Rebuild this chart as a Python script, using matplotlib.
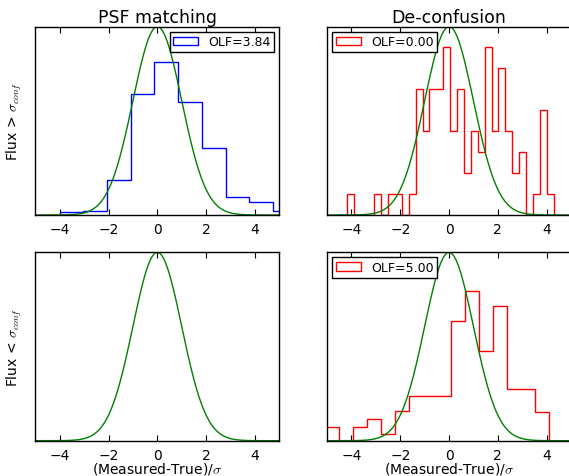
import numpy as np
import matplotlib
matplotlib.use("Agg")
import matplotlib.pyplot as plt

# ---- data (heights as fraction of the Gaussian peak) ----
col_titles = ["PSF matching", "De-confusion"]
row_labels = [r"Flux > $\sigma_{conf}$", r"Flux < $\sigma_{conf}$"]
xlabel = r"(Measured-True)/$\sigma$"

psf_hi_edges = [-4.0, -3.03, -2.05, -1.09, -0.12, 0.85, 1.83, 2.80, 3.77, 4.73, 5.70]
psf_hi_heights = [0.018, 0.023, 0.184, 0.642, 0.81, 0.598, 0.356, 0.094, 0.067, 0.023]
psf_hi_olf = 3.84

dec_hi_lo, dec_hi_hi = -4.19, 4.28
dec_hi_counts = [1, 0, 0, 0, 1, 0, 1, 1, 0, 1, 6, 4, 6, 6, 8, 4, 6, 2, 4, 3,
                 8, 4, 7, 4, 2, 3, 0, 1, 5, 1]
dec_hi_unit = 0.1115
dec_hi_olf = 0.00

dec_lo_lo, dec_lo_hi = -5.07, 4.11
dec_lo_heights = [0.074, 0.0, 0.074, 0.115, 0.035, 0.156, 0.236, 0.236, 0.236,
                  0.638, 0.797, 0.475, 0.716, 0.275, 0.275, 0.154]
dec_lo_olf = 5.00

xticks = [-4, -2, 0, 2, 4]

plt.rcParams.update({
    "font.family": "DejaVu Sans",
    "mathtext.fontset": "cm",
    "xtick.direction": "in",
    "ytick.direction": "in",
    "xtick.top": True,
    "xtick.major.size": 4,
    "axes.linewidth": 1.0,
})

fig = plt.figure(figsize=(5.69, 4.77), dpi=100)
W = 0.429
H = 0.3948
lefts = [0.062, 0.5747]
bottoms = [0.5472, 0.074]

xg = np.linspace(-5, 5, 500)
gauss = np.exp(-0.5 * xg ** 2)

axes = [[fig.add_axes([lefts[c], bottoms[r], W, H]) for c in range(2)] for r in range(2)]

def hist(ax, edges, heights, color, olf, loc):
    edges = np.asarray(edges, float)
    centers = 0.5 * (edges[:-1] + edges[1:])
    ax.hist(centers, bins=edges, weights=heights, histtype="step", color=color,
            lw=1.0, label="OLF=%.2f" % olf)
    leg = ax.legend(loc=loc, fontsize=9, fancybox=False, framealpha=1,
                    borderaxespad=0.4, handlelength=2.0, borderpad=0.3,
                    handletextpad=0.8)
    leg.get_frame().set_edgecolor("black")
    leg.get_frame().set_linewidth(1.0)

hist(axes[0][0], psf_hi_edges, psf_hi_heights, "b", psf_hi_olf, "upper right")
e = np.linspace(dec_hi_lo, dec_hi_hi, len(dec_hi_counts) + 1)
hist(axes[0][1], e, np.array(dec_hi_counts) * dec_hi_unit, "r", dec_hi_olf, "upper left")
e2 = np.linspace(dec_lo_lo, dec_lo_hi, len(dec_lo_heights) + 1)
hist(axes[1][1], e2, dec_lo_heights, "r", dec_lo_olf, "upper left")

for r in range(2):
    for c in range(2):
        ax = axes[r][c]
        ax.plot(xg, gauss, color=(0, 0.5, 0), lw=1.0)
        ax.set_xlim(-5, 5)
        ax.set_ylim(0, 1.0)
        ax.set_yticks([])
        ax.set_xticks(xticks)
        ax.tick_params(axis="x", labelsize=10, pad=5)
        if r == 0:
            ax.set_title(col_titles[c], fontsize=12.5, pad=3)
        else:
            ax.set_xlabel(xlabel, fontsize=10, labelpad=-1)
        if c == 0:
            ax.set_ylabel(row_labels[r], fontsize=10, labelpad=8)

fig.savefig("out.png", dpi=100)
